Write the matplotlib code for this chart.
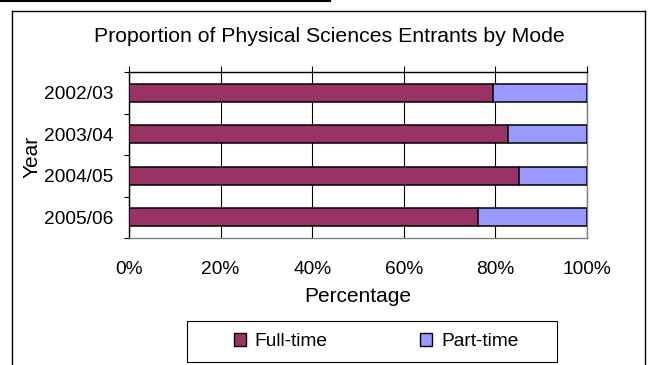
import matplotlib
matplotlib.use("Agg")
import matplotlib.pyplot as plt
from matplotlib.lines import Line2D
from matplotlib.patches import Rectangle, Patch

plt.rcParams['font.family'] = ['Liberation Sans', 'DejaVu Sans']

years = ["2002/03", "2003/04", "2004/05", "2005/06"]
full_time = [79.5, 82.7, 85.2, 76.1]
part_time = [100 - v for v in full_time]
series_names = ["Full-time", "Part-time"]
colors = ["#993366", "#9999FF"]
xticks = [0, 20, 40, 60, 80, 100]
xtick_labels = ["0%", "20%", "40%", "60%", "80%", "100%"]

W, H = 649, 365
fig = plt.figure(figsize=(W / 100, H / 100), dpi=100)

# axes placement (pixels)
l, r, t, b = 129, 587, 72, 238
ax = fig.add_axes([l / W, 1 - b / H, (r - l) / W, (b - t) / H])

ypos = list(range(len(years)))
ax.barh(ypos, full_time, height=0.44, color=colors[0], edgecolor="black", linewidth=1.1, zorder=3)
ax.barh(ypos, part_time, left=full_time, height=0.44, color=colors[1], edgecolor="black", linewidth=1.1, zorder=3)

ax.set_xlim(0, 100)
ax.set_ylim(len(years) - 0.5, -0.5)

ax.set_xticks(xticks)
ax.set_xticklabels(xtick_labels, fontsize=13.8)
ax.tick_params(axis="x", which="major", top=True, bottom=False, labeltop=False, labelbottom=True,
               direction="out", length=4.3, width=0.8, pad=12.5)
ax.grid(axis="x", color="black", linewidth=0.8, zorder=1)

ax.set_yticks(ypos)
ax.set_yticklabels(years, fontsize=13.8)
ax.set_yticks([i - 0.5 for i in range(len(years) + 1)], minor=True)
ax.tick_params(axis="y", which="major", length=0, pad=11.5)
ax.tick_params(axis="y", which="minor", length=3.6, width=0.8, direction="out")

for s in ["top", "left"]:
    ax.spines[s].set_color("black")
    ax.spines[s].set_linewidth(1.0)
for s in ["bottom", "right"]:
    ax.spines[s].set_color("#808080")
    ax.spines[s].set_linewidth(1.0)

ax.set_xlabel("Percentage", fontsize=15, va="center")
ax.xaxis.set_label_coords(0.5, -(297 - b) / (b - t))
ax.set_ylabel("Year", fontsize=15, va="center")
ax.yaxis.set_label_coords(-(l - 32) / (r - l), 1 - (157 - t) / (b - t))

fig.text(329 / W, 1 - 37 / H, "Proportion of Physical Sciences Entrants by Mode",
         fontsize=15.3, ha="center", va="center")

# outer chart border
fig.add_artist(Line2D([12 / W, 12 / W], [0, 1 - 11 / H], color="black", lw=1.0, transform=fig.transFigure))
fig.add_artist(Line2D([12 / W, 645 / W], [1 - 11 / H, 1 - 11 / H], color="black", lw=1.0, transform=fig.transFigure))
fig.add_artist(Line2D([645 / W, 645 / W], [0, 1 - 11 / H], color="black", lw=1.0, transform=fig.transFigure))
# top line
fig.add_artist(Line2D([0, 330 / W], [1 - 1 / H, 1 - 1 / H], color="black", lw=1.5, transform=fig.transFigure))

# legend box
fig.add_artist(Rectangle((187 / W, 1 - 362 / H), (557 - 187) / W, (362 - 321) / H,
                         transform=fig.transFigure, facecolor="white", edgecolor="black", lw=0.8))
handles = [Patch(facecolor=c, edgecolor="black", linewidth=1.0) for c in colors]
fig.legend(handles, series_names, loc="center", bbox_to_anchor=(376 / W, 1 - 341.5 / H),
           ncol=2, frameon=False, fontsize=13.8, handlelength=0.65, handleheight=0.65,
           handletextpad=0.45, columnspacing=4.8)

fig.savefig("out.png", dpi=100)
